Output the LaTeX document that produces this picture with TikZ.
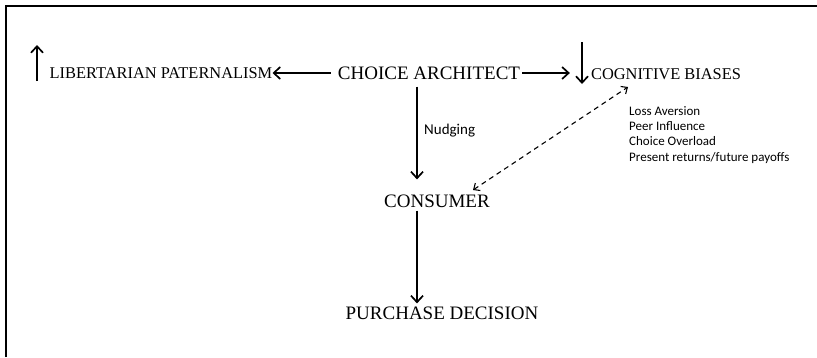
\documentclass[tikz,border=0pt]{standalone}
\usepackage{fontspec}
\setmainfont{Liberation Serif}
\newfontfamily\calib{Carlito}
\usetikzlibrary{arrows.meta}
\begin{document}
\begin{tikzpicture}[x=1pt,y=-1pt,
  lbl/.style={inner sep=0pt,font=\fontsize{16.4}{18}\selectfont},
  biglbl/.style={inner sep=0pt,font=\fontsize{19}{21}\selectfont},
  small/.style={inner sep=0pt,font=\calib\fontsize{13}{15.3}\selectfont,align=left},
  arr/.style={line width=1.7pt,-{Straight Barb[length=6.5pt,width=12pt,line width=1.7pt]}},
  darr/.style={line width=1.1pt,dash pattern=on 5pt off 4pt,{Straight Barb[length=5pt,width=9pt,line width=1.1pt]}-{Straight Barb[length=5pt,width=9pt,line width=1.1pt]}}]
\useasboundingbox (0,0) rectangle (817,357);
\draw[line width=1.2pt] (6,357) -- (6,6) -- (817,6);
\node[lbl] (lp) at (161,73) {LIBERTARIAN PATERNALISM};
\node[biglbl] (ca) at (429,73) {CHOICE ARCHITECT};
\node[lbl] (cb) at (666,74) {COGNITIVE BIASES};
\node[biglbl] (cons) at (437,201) {CONSUMER};
\node[biglbl] (pd) at (442,313) {PURCHASE DECISION};
\node[inner sep=0pt,font=\calib\fontsize{15}{17}\selectfont,anchor=west] (nud) at (424,131) {Nudging};
\node[small,anchor=north west] (list) at (629,106) {Loss Aversion\\Peer Influence\\Choice Overload\\Present returns/future payoffs};
\coordinate (colx) at (417,0);
\coordinate (up1) at (37,81);
\coordinate (up2) at (37,45);
\coordinate (dn1) at (582,42);
\coordinate (dn2) at (582,84);
\coordinate (da) at (473,190);
\coordinate (db) at (628,87);
\draw[arr] (up1) -- (up2);
\draw[arr] (dn1) -- (dn2);
\draw[arr,shorten <=7pt] (ca.west) -- (lp.east);
\draw[arr,shorten <=2pt,shorten >=21pt] (ca.east) -- (ca.east -| cb.west);
\draw[arr,shorten <=7pt,shorten >=15pt] (ca.south -| colx) -- (cons.north -| colx);
\draw[arr,shorten <=3pt,shorten >=3pt] (cons.south -| colx) -- (pd.north -| colx);
\draw[darr] (da) -- (db);
\end{tikzpicture}
\end{document}
